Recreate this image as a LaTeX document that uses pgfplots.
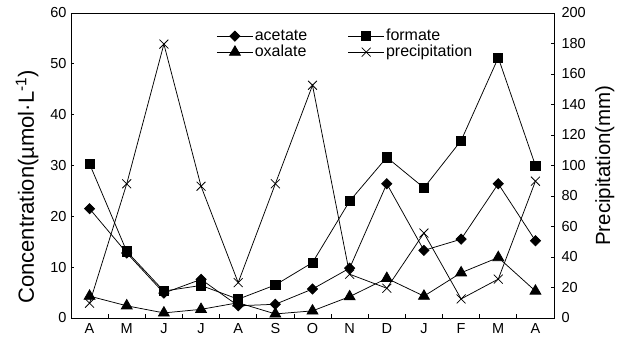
\documentclass[border=0pt]{standalone}
\usepackage{pgfplots}
\pgfplotsset{compat=1.18}
\usepackage{fontspec}
\setmainfont{Liberation Sans}

\pgfplotstableread{
x acetate formate oxalate precip
0  21.5 30.3 4.3 9.7
1  12.8 13.1 2.4 88
2  4.9  5.3  1.0 179.6
3  7.6  6.4  1.7 86.4
4  2.4  3.7  3.0 23.2
5  2.7  6.5  0.8 88
6  5.7  10.9 1.4 152.6
7  9.8  23.0 4.2 28.7
8  26.4 31.6 7.8 19.5
9  13.3 25.6 4.3 55.7
10 15.5 34.9 8.9 12.5
11 26.4 51.2 11.9 25.5
12 15.2 30.0 5.3 89.7
}\datatable

\begin{document}
\begin{tikzpicture}
\pgfplotsset{
  common/.style={
    scale only axis, width=483pt, height=305pt,
    xmin=-0.5, xmax=12.5,
    tick align=inside,
    major tick length=3.5pt, minor tick length=3.5pt,
    every tick/.style={black, line width=0.7pt},
    axis line style={line width=0.9pt},
    tick label style={font=\fontsize{14.5}{16}\selectfont},
    /pgf/number format/assume math mode=true,
    clip=false,
  },
  every axis plot/.append style={black, line width=0.75pt},
}
\begin{axis}[common, name=ax,
  ymin=0, ymax=60, ytick={0,10,...,60},
  ytick pos=left, xtick pos=bottom,
  xtick={0,...,12}, xticklabels={A,M,J,J,A,S,O,N,D,J,F,M,A},
  major x tick style={draw=none},
  minor xtick={0.5,1.5,...,11.5},
  xticklabel style={yshift=-2pt},
  yticklabel style={xshift=-1pt},
  ylabel={Concentration(µmol·L\textsuperscript{-1})},
  ylabel style={font=\fontsize{22}{24}\selectfont, at={(axis description cs:-0.091,0.43)}, anchor=center},
  legend columns=2,
  legend style={draw=none, fill=none, inner sep=0pt, at={(axis description cs:0.301,0.951)}, anchor=north west,
    font=\fontsize{16}{18}\selectfont,
    nodes={inner xsep=1.5pt, inner ysep=1pt, text height=11pt, text depth=3pt},
    /tikz/every even column/.append style={column sep=39pt}},
  legend cell align=left,
  legend image code/.code={\draw[mark repeat=2,mark phase=2,#1] plot coordinates {(0pt,0pt) (18pt,0pt) (36pt,0pt)};},
]
\addplot[mark=square*, mark size=3.6pt, mark options={rotate=45}] table[x=x,y=acetate]{\datatable};
\addlegendentry{acetate}
\addplot[mark=square*, mark size=4.6pt] table[x=x,y=formate]{\datatable};
\addlegendentry{formate}
\addplot[mark=triangle*, mark size=6.3pt] table[x=x,y=oxalate]{\datatable};
\addlegendentry{oxalate}
\addlegendimage{black, line width=0.75pt, mark=x, mark size=6.3pt}
\addlegendentry{precipitation}
\end{axis}
\begin{axis}[common,
  ymin=0, ymax=200, ytick={0,20,...,200},
  axis x line=none, axis y line*=right,
  yticklabel style={xshift=4pt},
  ylabel={Precipitation(mm)},
  ylabel style={font=\fontsize{20.5}{22}\selectfont, at={(axis description cs:1.105,0.5)}, anchor=center},
]
\addplot[mark=x, mark size=6.3pt] table[x=x,y=precip]{\datatable};
\end{axis}
\pgfresetboundingbox
\path[use as bounding box] ([shift={(-71pt,-23pt)}]ax.south west) rectangle ([shift={(65pt,13pt)}]ax.north east);
\end{tikzpicture}
\end{document}
